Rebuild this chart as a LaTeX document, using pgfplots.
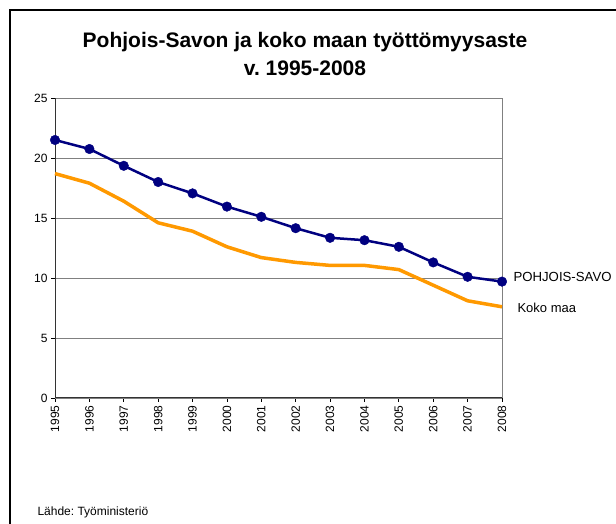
\documentclass[border=0pt]{standalone}
\usepackage{pgfplots}
\pgfplotsset{compat=1.18}
\usepackage{fontspec}
\setmainfont{Liberation Sans}
\frenchspacing
\definecolor{navyb}{HTML}{000080}
\definecolor{orng}{HTML}{FF9900}
\definecolor{gridg}{HTML}{808080}
\begin{document}
\begin{tikzpicture}[x=1pt,y=1pt]
\useasboundingbox (0,0) rectangle (616,524);
\fill[white] (0,0) rectangle (616,524);
\draw[black, line width=1.2pt] (10,0) -- (10,514) -- (620,514);
\node[font=\fontsize{21}{28}\selectfont\bfseries, align=center] at (305,470) {Pohjois-Savon ja koko maan työttömyysaste\\ v. 1995-2008};
\node[anchor=west, font=\fontsize{12}{14}\selectfont] at (34,12) {Lähde: Työministeriö};
\begin{axis}[
  at={(55pt,126pt)}, anchor=south west,
  scale only axis, width=447pt, height=300pt,
  xmin=1995, xmax=2008, ymin=0, ymax=25,
  enlargelimits=false,
  xtick={1995,...,2008},
  ytick={0,5,...,25},
  xticklabel style={rotate=90, anchor=east, font=\fontsize{12}{14}\selectfont},
  yticklabel style={font=\fontsize{12}{14}\selectfont},
  /pgf/number format/assume math mode=true,
  xticklabel={\pgfmathprintnumber[1000 sep={},fixed]{\tick}},
  ymajorgrids, grid style={gridg, line width=0.8pt},
  axis line style={gridg, line width=0.8pt},
  axis x line*=bottom, axis y line*=left,
  tick style={black, line width=0.8pt},
  tick align=outside, major tick length=4pt,
  clip=false,
]
\draw[gridg, line width=0.8pt] (axis cs:2008,0) -- (axis cs:2008,25);
\draw[black!80, line width=1pt] (axis cs:1995,0) -- (axis cs:1995,25);
\draw[black!80, line width=1pt] (axis cs:1995,0) -- (axis cs:2008,0);
\addplot[orng, line width=3.5pt, line join=round] coordinates {
(1995,18.7)(1996,17.9)(1997,16.4)(1998,14.6)(1999,13.9)(2000,12.6)(2001,11.7)
(2002,11.3)(2003,11.05)(2004,11.05)(2005,10.7)(2006,9.4)(2007,8.1)(2008,7.6)};
\addplot[navyb, line width=2.5pt, mark=*, mark size=4.8pt, mark options={solid, fill=navyb, draw=navyb, line width=0.4pt}] coordinates {
(1995,21.5)(1996,20.75)(1997,19.35)(1998,18.0)(1999,17.05)(2000,15.95)(2001,15.1)
(2002,14.15)(2003,13.35)(2004,13.15)(2005,12.6)(2006,11.3)(2007,10.1)(2008,9.7)};
\node[anchor=west, font=\fontsize{13.2}{15}\selectfont] at (axis cs:2008,10.1) [xshift=8pt] {POHJOIS-SAVO};
\node[anchor=west, font=\fontsize{13}{15}\selectfont] at (axis cs:2008,7.5) [xshift=12pt] {Koko maa};
\end{axis}
\end{tikzpicture}
\end{document}
